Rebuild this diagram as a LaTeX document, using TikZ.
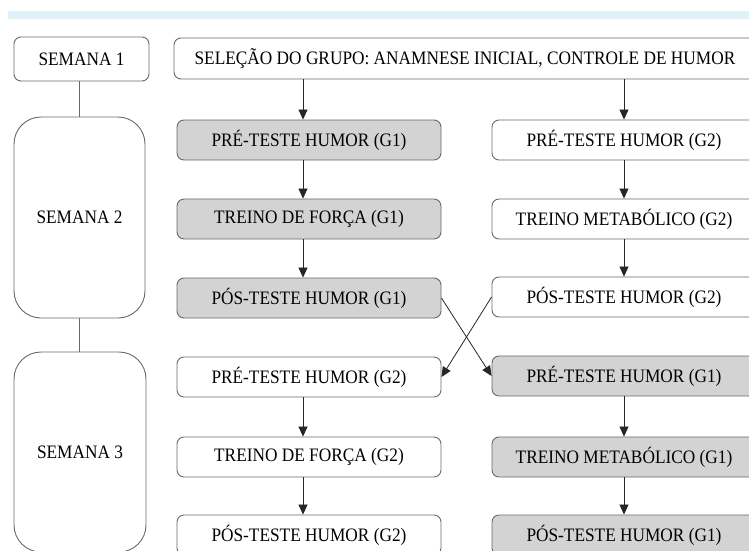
\documentclass[tikz,border=0pt]{standalone}
\usepackage{fontspec}
\setmainfont{Liberation Serif}[FakeStretch=0.91]
\usetikzlibrary{arrows.meta}
\definecolor{band}{RGB}{223,242,250}
\definecolor{boxgray}{RGB}{211,211,211}
\definecolor{edge}{RGB}{105,105,105}
\begin{document}
\begin{tikzpicture}[x=1pt,y=-1pt,
  box/.style={draw=edge, line width=0.9pt, rounded corners=7pt, minimum width=264pt,
    minimum height=40pt, inner sep=0pt, font=\fontsize{19}{22}\selectfont},
  gbox/.style={box, fill=boxgray},
  week/.style={box, minimum width=131pt, minimum height=201pt, rounded corners=27pt},
  arr/.style={draw=black!85, line width=0.8pt, -{Triangle[width=9pt,length=10pt]}},
  link/.style={draw=edge, line width=0.8pt}]
\useasboundingbox (0,0) rectangle (749,551);
\clip (0,0) rectangle (749,551);
\fill[band] (8,11) rectangle (749,19);
% week column
\node[box, minimum width=135pt, minimum height=44pt] (s1) at (81.5,59) {SEMANA 1};
\node[week] (s2) at (79.5,217.5) {SEMANA 2};
\node[week, minimum width=132pt, minimum height=200pt] (s3) at (80,452) {SEMANA 3};
\draw[link] (s1.south -| 79,0) -- (s2.north -| 79,0);
\draw[link] (s2.south -| 79,0) -- (s3.north -| 79,0);
% selection
\node[box, minimum width=582pt, minimum height=41pt] (sel) at (465,58.5) {SELEÇÃO DO GRUPO: ANAMNESE INICIAL, CONTROLE DE HUMOR};
% left column
\node[gbox] (p1) at (309,140) {PRÉ-TESTE HUMOR (G1)};
\node[gbox] (p2) at (309,219) {TREINO DE FORÇA (G1)};
\node[gbox] (p3) at (309,298) {PÓS-TESTE HUMOR (G1)};
\node[box] (p4) at (309,377) {PRÉ-TESTE HUMOR (G2)};
\node[box] (p5) at (309,457) {TREINO DE FORÇA (G2)};
\node[box] (p6) at (309,535) {PÓS-TESTE HUMOR (G2)};
% right column
\node[box] (q1) at (624,140) {PRÉ-TESTE HUMOR (G2)};
\node[box] (q2) at (624,219) {TREINO METABÓLICO (G2)};
\node[box] (q3) at (624,297) {PÓS-TESTE HUMOR (G2)};
\node[gbox] (q4) at (624,376) {PRÉ-TESTE HUMOR (G1)};
\node[gbox] (q5) at (624,457) {TREINO METABÓLICO (G1)};
\node[gbox] (q6) at (624,535) {PÓS-TESTE HUMOR (G1)};
\coordinate (xl) at (303,0);
\coordinate (xr) at (624,0);
% arrows
\draw[arr] (sel.south -| xl) -- (p1.north -| xl);
\draw[arr] (p1.south -| xl) -- (p2.north -| xl);
\draw[arr] (p2.south -| xl) -- (p3.north -| xl);
\draw[arr] (p4.south -| xl) -- (p5.north -| xl);
\draw[arr] (p5.south -| xl) -- (p6.north -| xl);
\draw[arr] (sel.south -| xr) -- (q1.north -| xr);
\draw[arr] (q1.south -| xr) -- (q2.north -| xr);
\draw[arr] (q2.south -| xr) -- (q3.north -| xr);
\draw[arr] (q4.south -| xr) -- (q5.north -| xr);
\draw[arr] (q5.south -| xr) -- (q6.north -| xr);
\draw[arr] (p3.east) -- (q4.west);
\draw[arr] (q3.west) -- (p4.east);
\end{tikzpicture}
\end{document}
